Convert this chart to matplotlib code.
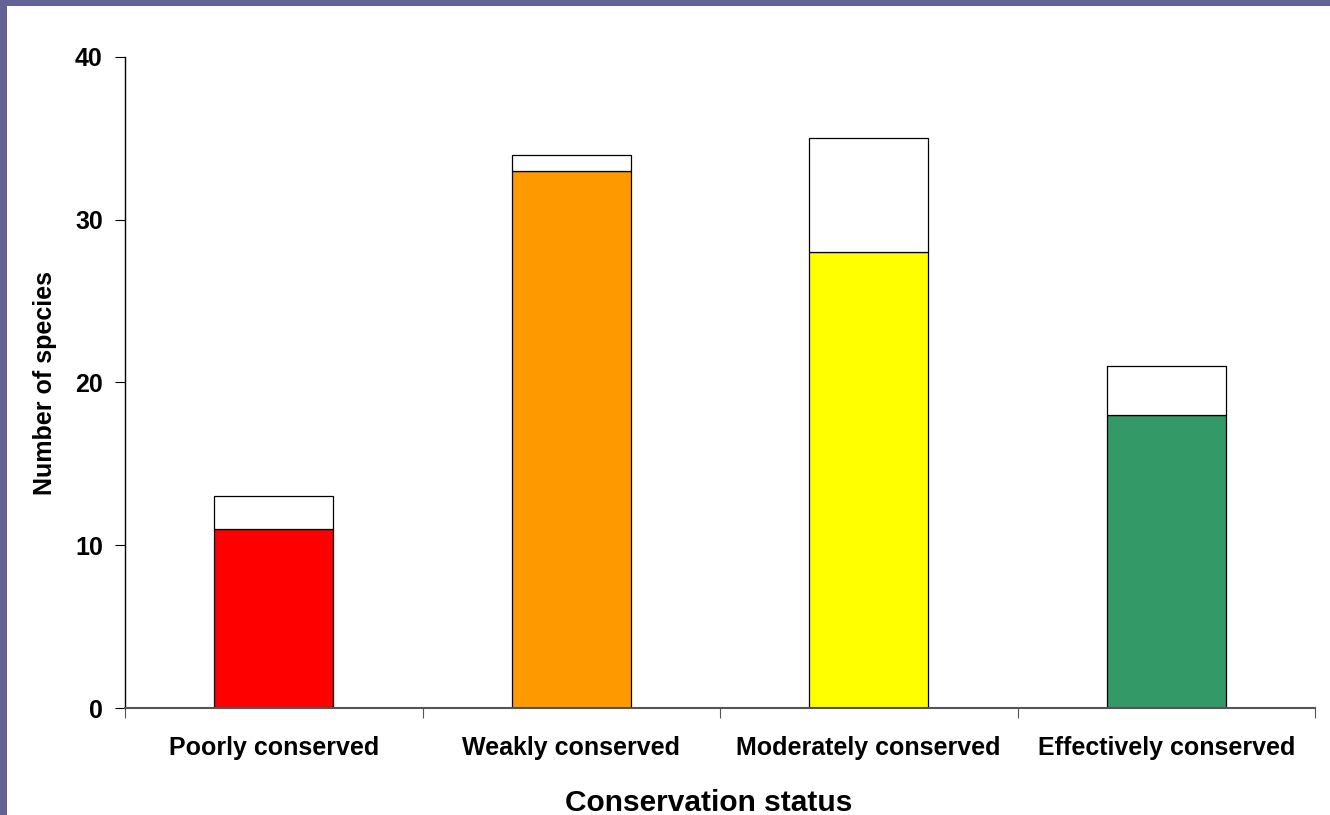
import matplotlib
matplotlib.use("Agg")
import matplotlib.pyplot as plt
from matplotlib.patches import Rectangle
import numpy as np

categories = ["Poorly conserved", "Weakly conserved", "Moderately conserved", "Effectively conserved"]
lower_values = [11, 33, 28, 18]
upper_values = [2, 1, 7, 3]
colors = ["#ff0000", "#ff9900", "#ffff00", "#339966"]
yticks = [0, 10, 20, 30, 40]

plt.rcParams['font.family'] = ['Liberation Sans', 'DejaVu Sans']

fig = plt.figure(figsize=(13.3, 8.15), dpi=100)
fig.patch.set_facecolor("white")
# border strips
fig.patches.append(Rectangle((0, 1 - 6/815), 1, 6/815, transform=fig.transFigure,
                             facecolor="#626294", edgecolor="none", zorder=0))
fig.patches.append(Rectangle((0, 0), 7/1330, 1, transform=fig.transFigure,
                             facecolor="#626294", edgecolor="none", zorder=0))

ax = fig.add_axes([125/1330, 1 - 708/815, (1315 - 125)/1330, (708 - 57)/815])
x = np.arange(len(categories))
w = 0.4
ax.bar(x, lower_values, width=w, color=colors, edgecolor="black", linewidth=0.9)
ax.bar(x, upper_values, bottom=lower_values, width=w, color="white", edgecolor="black", linewidth=0.9)

ax.set_xlim(-0.5, len(categories) - 0.5)
ax.set_ylim(0, 40)
ax.set_yticks(yticks)
ax.set_yticklabels([str(t) for t in yticks], fontsize=18, fontweight="bold")
ax.set_xticks(np.arange(len(categories) + 1) - 0.5)
ax.set_xticklabels([])
ax.set_xticks(x, minor=True)
ax.set_xticklabels(categories, minor=True, fontsize=18, fontweight="bold")
ax.tick_params(axis="x", which="minor", length=0, pad=20)
ax.tick_params(axis="x", which="major", length=7, direction="out", color="#555555")
ax.tick_params(axis="y", length=7, direction="out", pad=9)

ax.spines["top"].set_visible(False)
ax.spines["right"].set_visible(False)
ax.spines["bottom"].set_color("#555555")
ax.spines["bottom"].set_linewidth(1.5)
ax.spines["left"].set_linewidth(1.0)

fig.text(709/1330, 1 - 803/815, "Conservation status", fontsize=21.5, fontweight="bold",
         ha="center", va="center")
fig.text(45/1330, 1 - 383/815, "Number of species", fontsize=18, fontweight="bold",
         ha="center", va="center", rotation=90)

fig.savefig("out.png", dpi=100, facecolor="white")
